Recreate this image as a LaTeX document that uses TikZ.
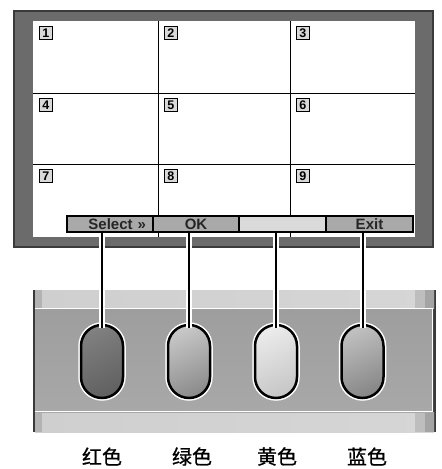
\documentclass[tikz,border=0pt]{standalone}
\usepackage{fontspec}
\setmainfont{Liberation Sans}
\newfontfamily\cjk[RawFeature={embolden=0.8}]{Noto Sans CJK SC}
\usepackage{tikz}
\usetikzlibrary{calc}

\definecolor{framegray}{HTML}{6B6B6B}
\definecolor{edgegray}{HTML}{3A3A3A}
\definecolor{keygray}{HTML}{A9A9A9}
\definecolor{blankgray}{HTML}{DADADA}
\definecolor{numgray}{HTML}{D9D9D9}
\definecolor{stripA}{HTML}{CFCFCF}
\definecolor{stripB}{HTML}{ECECEC}
\definecolor{stripC}{HTML}{D6D6D6}
\definecolor{endA}{HTML}{BEBEBE}
\definecolor{endB}{HTML}{A4A4A4}
\definecolor{endL}{HTML}{B3B3B3}
\definecolor{midA}{HTML}{9E9E9E}
\definecolor{midB}{HTML}{A8A8A8}

\begin{document}
\begin{tikzpicture}[x=1pt,y=-1pt,
  keybox/.style={draw=black,line width=1.2pt,fill=keygray,minimum width=86pt,minimum height=16pt,inner sep=0pt,font=\bfseries\fontsize{15}{15}\selectfont,text=black!85},
  numbox/.style={draw=black,line width=0.9pt,fill=numgray,minimum size=13pt,inner sep=0pt,anchor=north west,font=\bfseries\fontsize{12.5}{12.5}\selectfont},
  pill/.style={rectangle,rounded corners=21pt,minimum width=42pt,minimum height=73pt,inner sep=0pt,draw=black,line width=2.5pt,preaction={draw=white,line width=5.5pt}},
  lead/.style={line width=2pt,preaction={draw=white,line width=6pt},shorten >=-4pt},
  colname/.style={font=\cjk\fontsize{20}{20}\selectfont}]

\useasboundingbox (0,0) rectangle (442,469);

% monitor
\draw[fill=framegray,draw=edgegray,line width=1.2pt] (14,11) rectangle (433,247);
\fill[white] (33,21) rectangle (415,237);

% split screen 3 x 3
\draw[line width=1pt] (158,21) -- (158,237);
\draw[line width=1pt] (290,21) -- (290,237);
\draw[line width=1pt] (33,93) -- (415,93);
\draw[line width=1pt] (33,164) -- (415,164);

\foreach \n/\cx/\cy in {1/33/21,2/158/21,3/290/21,4/33/93,5/158/93,6/290/93,7/33/164,8/158/164,9/290/164}
{
\node[numbox] (num\n) at (\cx+6,\cy+5) {\n};
}

% menu bar
\node[keybox,text width=72pt,align=right] (sel) at (110,224) {Select »};
\node[keybox] (ok) at (196,224) {OK};
\node[keybox,fill=blankgray,minimum width=87pt] (blank) at (282.5,224) {};
\node[keybox,minimum width=87pt] (exit) at (369.5,224) {Exit};

% control panel
\fill[edgegray] (33,290) rectangle (436,432);
\shade[left color=stripA,middle color=stripB,right color=stripC] (35,290) rectangle (434,308);
\shade[left color=stripA,middle color=stripB,right color=stripC] (35,412) rectangle (434,432);
\fill[endL] (35,290) rectangle (42,308);
\fill[endL] (35,412) rectangle (42,432);
\fill[endA] (415,290) rectangle (425,308);
\fill[endB] (425,290) rectangle (434,308);
\fill[endA] (415,412) rectangle (425,432);
\fill[endB] (425,412) rectangle (434,432);
\shade[top color=midA,middle color=white,bottom color=midB] (35,308) rectangle (433,412);
\draw[white,line width=1pt] (35,308.5) -- (432.5,308.5) -- (432.5,411.5) -- (35,411.5);

% colour keys
\node[pill,top color=black!50,bottom color=black!62,shading angle=25] (red) at (102,361.5) {};
\node[pill,top color=black!22,bottom color=black!45,shading angle=25] (green) at (189,361.5) {};
\node[pill,top color=black!8,bottom color=black!22,shading angle=25] (yellow) at (276,361.5) {};
\node[pill,top color=black!25,bottom color=black!47,shading angle=25] (blue) at (362.5,361.5) {};

\draw[lead] (sel.south -| red.north) -- (red.north);
\draw[lead] (ok.south -| green.north) -- (green.north);
\draw[lead] (blank.south -| yellow.north) -- (yellow.north);
\draw[lead] (exit.south -| blue.north) -- (blue.north);

\node[colname] (redname) at (102,456.5) {红色};
\node[colname] (greenname) at (192,456.5) {绿色};
\node[colname] (yellowname) at (277,456.5) {黄色};
\node[colname] (bluename) at (367,456.5) {蓝色};

\end{tikzpicture}
\end{document}
